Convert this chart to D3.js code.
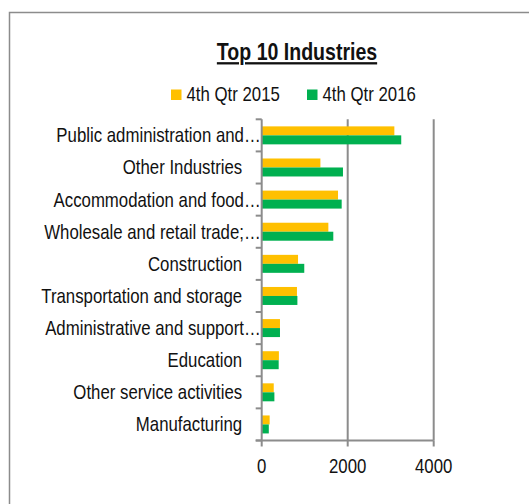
<!DOCTYPE html>
<html>
<head>
<meta charset="utf-8">
<script src="https://cdn.jsdelivr.net/npm/d3@7"></script>
<style>
  body { margin: 0; background: #fff; }
  svg text { font-family: "Liberation Sans Narrow", "Arial Narrow", "Liberation Sans", sans-serif; fill: #111; }
</style>
</head>
<body>
<script>
const categories = ['Public administration and…', 'Other Industries', 'Accommodation and food…',
  'Wholesale and retail trade;…', 'Construction', 'Transportation and storage',
  'Administrative and support…', 'Education', 'Other service activities', 'Manufacturing'];
const series = ['4th Qtr 2015', '4th Qtr 2016'];
const q2015 = [3085, 1365, 1775, 1550, 845, 820, 425, 400, 280, 185];
const q2016 = [3245, 1890, 1860, 1665, 990, 830, 425, 395, 295, 165];
const xTicks = [0, 2000, 4000];
const colors = ['#FFC000', '#00B050'];

const width = 529, height = 504;
const plotL = 261.7, plotR = 433.7, plotT = 119.3, plotB = 440.5;
const sx = 0.84; // squeeze wide fallback font to look like a narrow face

const svg = d3.select('body').append('svg')
  .attr('width', width)
  .attr('height', height);

// outer frame
svg.append('rect')
  .attr('x', 9.5).attr('y', 12.5)
  .attr('width', 540).attr('height', 520)
  .attr('fill', 'none')
  .attr('stroke', '#8c8c8c')
  .attr('stroke-width', 1.5);

const x = d3.scaleLinear().domain([0, 4000]).range([plotL, plotR]);
const y = d3.scaleBand().domain(categories).range([plotT, plotB]).paddingInner(0.44).paddingOuter(0.22);

// gridlines
svg.append('g').selectAll('line')
  .data(xTicks.slice(1))
  .enter().append('line')
  .attr('x1', d => x(d)).attr('x2', d => x(d))
  .attr('y1', plotT).attr('y2', plotB)
  .attr('stroke', '#8c8c8c')
  .attr('stroke-width', 2);

// bars
const data = categories.map((c, i) => [c, q2015[i], q2016[i]]);
const bh = y.bandwidth() / 2;
const groups = svg.append('g').selectAll('g')
  .data(data)
  .enter().append('g')
  .attr('transform', d => `translate(0, ${y(d[0])})`);

groups.selectAll('rect')
  .data(d => [d[1], d[2]])
  .enter().append('rect')
  .attr('x', x(0))
  .attr('y', (d, i) => i * bh)
  .attr('width', d => x(d) - x(0))
  .attr('height', bh)
  .attr('fill', (d, i) => colors[i]);

// y axis
const bandStep = (plotB - plotT) / categories.length;
const yAxis = svg.append('g');
yAxis.append('line')
  .attr('x1', plotL).attr('x2', plotL)
  .attr('y1', plotT).attr('y2', plotB)
  .attr('stroke', '#8c8c8c').attr('stroke-width', 2);
yAxis.selectAll('.tk')
  .data(d3.range(categories.length + 1))
  .enter().append('line')
  .attr('x1', plotL - 6).attr('x2', plotL)
  .attr('y1', i => plotT + i * bandStep).attr('y2', i => plotT + i * bandStep)
  .attr('stroke', '#8c8c8c').attr('stroke-width', 2);
yAxis.selectAll('text')
  .data(categories)
  .enter().append('text')
  .attr('transform', d => {
    const tx = d.endsWith('…') ? plotL - 1 : plotL - 19.5;
    return `translate(${tx}, ${y(d) + y.bandwidth() / 2 + 7}) scale(${sx}, 1)`;
  })
  .attr('text-anchor', 'end')
  .style('font-size', '20px')
  .text(d => d);

// x axis
const xAxis = svg.append('g');
xAxis.append('line')
  .attr('x1', plotL - 6).attr('x2', plotR)
  .attr('y1', plotB).attr('y2', plotB)
  .attr('stroke', '#8c8c8c').attr('stroke-width', 2);
xAxis.selectAll('.tk')
  .data(xTicks)
  .enter().append('line')
  .attr('x1', d => x(d)).attr('x2', d => x(d))
  .attr('y1', plotB).attr('y2', plotB + 6)
  .attr('stroke', '#8c8c8c').attr('stroke-width', 2);
xAxis.selectAll('text')
  .data(xTicks)
  .enter().append('text')
  .attr('transform', d => `translate(${x(d)}, 473) scale(${sx}, 1)`)
  .attr('text-anchor', 'middle')
  .style('font-size', '20px')
  .text(d => d);

// title
svg.append('text')
  .attr('transform', `translate(297, 60) scale(0.85, 1)`)
  .attr('text-anchor', 'middle')
  .style('font-size', '23px')
  .style('font-weight', 'bold')
  .style('text-decoration', 'underline')
  .text('Top 10 Industries');

// legend
const legX = [171, 307];
const leg = svg.append('g').selectAll('g')
  .data(series)
  .enter().append('g')
  .attr('transform', (d, i) => `translate(${legX[i]}, 89.5)`);
leg.append('rect')
  .attr('width', 10.5).attr('height', 10.5)
  .attr('fill', (d, i) => colors[i]);
leg.append('text')
  .attr('transform', `translate(15.5, 11.5) scale(${sx}, 1)`)
  .style('font-size', '20px')
  .text(d => d);
</script>
</body>
</html>
